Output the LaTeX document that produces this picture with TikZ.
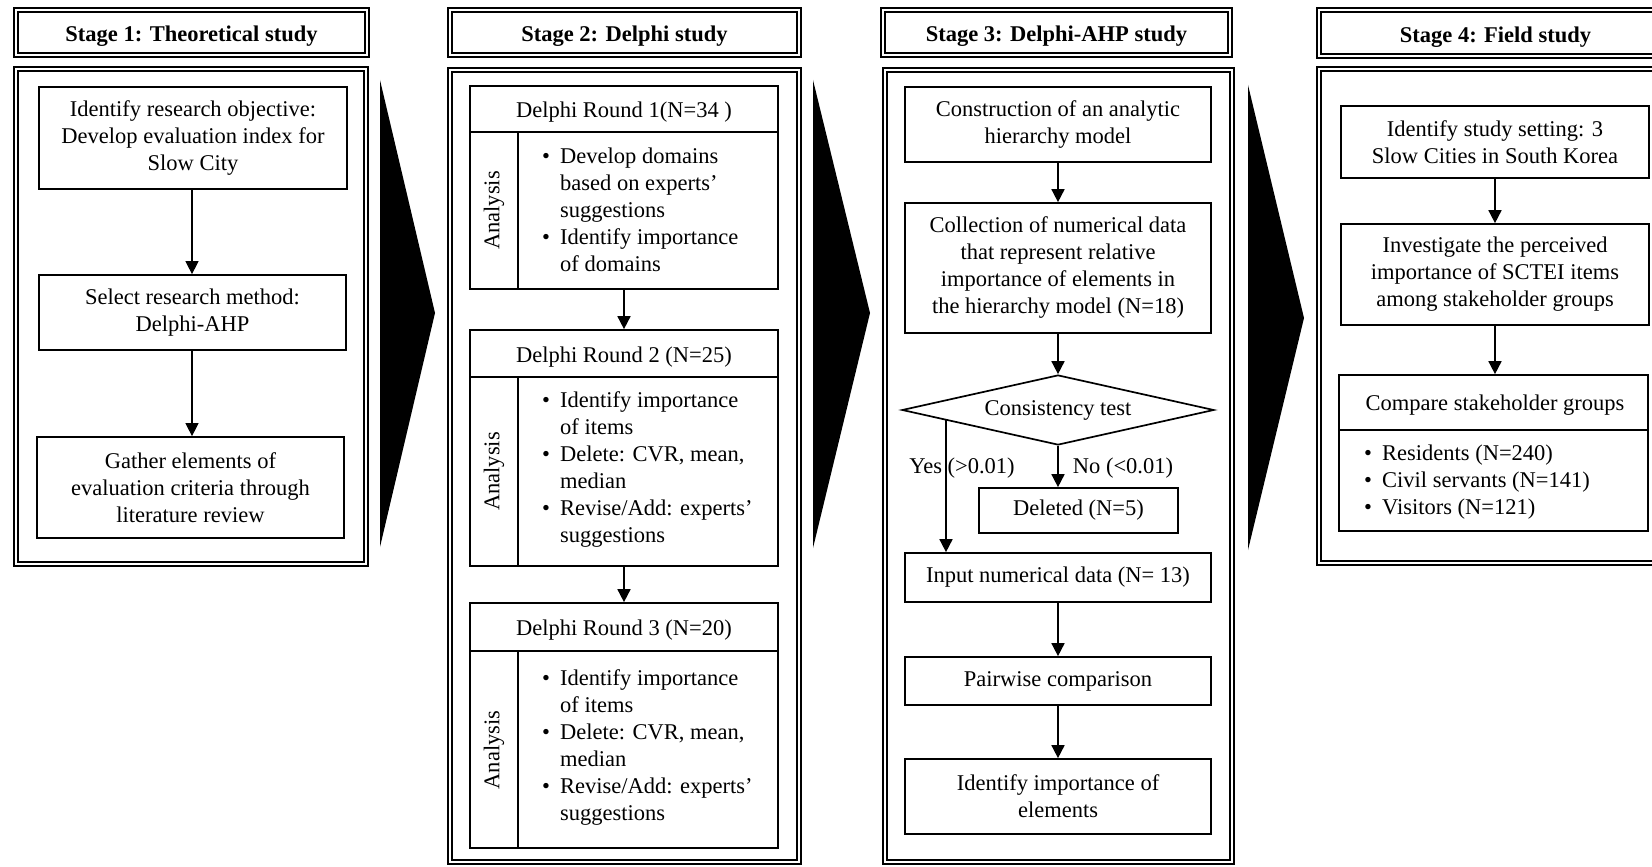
\documentclass[tikz,border=0pt]{standalone}
\usepackage{fontspec}
\setmainfont{Liberation Serif}
\usetikzlibrary{shapes.geometric,arrows.meta}
\newcommand{\myb}[1]{\makebox[18pt][l]{•}#1}
\newcommand{\myc}[1]{\hspace*{18pt}#1}
\begin{document}
\begin{tikzpicture}[x=1pt,y=-1pt,
  fnt/.style={font=\fontsize{22.5pt}{27pt}\selectfont},
  frame/.style={draw, line width=2pt, double distance=1.6pt, inner sep=0pt},
  hdr/.style={frame, font=\fontsize{22.5pt}{27pt}\selectfont\bfseries, text height=19pt, text depth=0pt},
  box/.style={draw, line width=1.7pt, align=center, inner sep=0pt, fnt},
  plain/.style={inner sep=0pt, align=center, fnt},
  txt/.style={inner sep=0pt, align=left, fnt},
  div/.style={line width=1.7pt},
  arr/.style={-{Triangle[width=13pt,length=13pt]}, line width=1.7pt},
  thinarr/.style={-{Triangle[width=13pt,length=13pt]}, line width=1.1pt},
  chev/.style={fill=black}
]
\useasboundingbox (0,0) rectangle (1652,867);
\fill[white] (0,0) rectangle (1652,867);
\clip (0,0) rectangle (1652,867);

% ---------------- Stage 1 ----------------
\node[hdr, minimum width=351pt, minimum height=45pt] (h1) at (191.5,32.5) {Stage 1: Theoretical study};
\node[frame, minimum width=350pt, minimum height=495pt] (f1) at (191,316.5) {};
\node[box, minimum width=308pt, minimum height=102pt] (a1) at (193,138) {Identify research objective:\\Develop evaluation index for\\Slow City};
\node[box, minimum width=307pt, minimum height=75pt] (a2) at (192.5,312.5) {Select research method:\\Delphi-AHP};
\node[box, minimum width=307pt, minimum height=101pt] (a3) at (190.5,487.5) {Gather elements of\\evaluation criteria through\\literature review};
\draw[thinarr] (a1.south -| 192,0) -- (a2.north -| 192,0);
\draw[thinarr] (a2.south -| 192,0) -- (a3.north -| 192,0);

% chevron 1
\fill[chev] (380,80) -- (435,313) -- (380,547) -- cycle;

% ---------------- Stage 2 ----------------
\node[hdr, minimum width=349pt, minimum height=45pt] (h2) at (624.5,32.5) {Stage 2: Delphi study};
\node[frame, minimum width=349pt, minimum height=792pt] (f2) at (624.5,466) {};

% Round 1
\node[box, minimum width=308pt, minimum height=203pt] (r1) at (624,187.5) {};
\node[plain] (r1t) at (624,112) {Delphi Round 1(N=34 )};
\draw[div] (r1.west |- 0,132) -- (r1.east |- 0,132);
\draw[div] (518,132) -- (518 ,289);
\node[plain, rotate=90] (r1a) at (494,210.5) {Analysis};
\node[txt, anchor=west] (r1b) at (542,210) {\myb{Develop domains}\\\myc{based on experts’}\\\myc{suggestions}\\\myb{Identify importance}\\\myc{of domains}};

% Round 2
\node[box, minimum width=308pt, minimum height=236pt] (r2) at (624,448) {};
\node[plain] (r2t) at (624,357) {Delphi Round 2 (N=25)};
\draw[div] (r2.west |- 0,377) -- (r2.east |- 0,377);
\draw[div] (518,377) -- (518,566);
\node[plain, rotate=90] (r2a) at (494,471.5) {Analysis};
\node[txt, anchor=west] (r2b) at (542,470) {\myb{Identify importance}\\\myc{of items}\\\myb{Delete: CVR, mean,}\\\myc{median}\\\myb{Revise/Add: experts’}\\\myc{suggestions}};

% Round 3
\node[box, minimum width=308pt, minimum height=245pt] (r3) at (624,725.5) {};
\node[plain] (r3t) at (624,630) {Delphi Round 3 (N=20)};
\draw[div] (r3.west |- 0,651) -- (r3.east |- 0,651);
\draw[div] (518,651) -- (518,848);
\node[plain, rotate=90] (r3a) at (494,750) {Analysis};
\node[txt, anchor=west] (r3b) at (542,747) {\myb{Identify importance}\\\myc{of items}\\\myb{Delete: CVR, mean,}\\\myc{median}\\\myb{Revise/Add: experts’}\\\myc{suggestions}};

\draw[arr] (r1.south) -- (r2.north);
\draw[arr] (r2.south) -- (r3.north);

% chevron 2
\fill[chev] (813,80) -- (870,313) -- (813,548) -- cycle;

% ---------------- Stage 3 ----------------
\node[hdr, minimum width=347pt, minimum height=45pt] (h3) at (1056.5,32.5) {Stage 3: Delphi-AHP study};
\node[frame, minimum width=347pt, minimum height=792pt] (f3) at (1058.5,466) {};
\node[box, minimum width=306pt, minimum height=75pt] (c1) at (1058,124.5) {Construction of an analytic\\hierarchy model};
\node[box, minimum width=306pt, minimum height=130pt] (c2) at (1058,268) {Collection of numerical data\\that represent relative\\importance of elements in\\the hierarchy model (N=18)};
\node[draw, diamond, aspect=4.46, line width=1.7pt, minimum width=312pt, minimum height=70pt, inner sep=0pt, fnt] (dia) at (1058,410) {Consistency test};
\node[box, minimum width=199pt, minimum height=45pt] (del) at (1078.5,510.5) {Deleted (N=5)};
\node[box, minimum width=306pt, minimum height=49pt] (inp) at (1058,577.5) {Input numerical data (N= 13)};
\node[box, minimum width=306pt, minimum height=48pt] (pw) at (1058,681) {Pairwise comparison};
\node[box, minimum width=306pt, minimum height=75pt] (idn) at (1058,796.5) {Identify importance of\\elements};
\node[plain] (yes) at (962,468) {Yes (>0.01)};
\node[plain] (no) at (1123,468) {No (<0.01)};
\coordinate (ys) at (946,420);

\draw[arr] (c1.south) -- (c2.north);
\draw[arr] (c2.south) -- (dia.north);
\draw[arr] (dia.south) -- (dia.south |- del.north);
\draw[arr] (ys) -- (ys |- inp.north);
\draw[arr] (inp.south) -- (pw.north);
\draw[arr] (pw.south) -- (idn.north);

% chevron 3
\fill[chev] (1248,85) -- (1304,318) -- (1248,550) -- cycle;

% ---------------- Stage 4 ----------------
\node[hdr, minimum width=353pt, minimum height=46pt] (h4) at (1495.5,33) {Stage 4: Field study};
\node[frame, minimum width=353pt, minimum height=494pt] (f4) at (1495.5,316) {};
\node[box, minimum width=308pt, minimum height=72pt] (d1) at (1495,142) {Identify study setting: 3\\Slow Cities in South Korea};
\node[box, minimum width=308pt, minimum height=101pt] (d2) at (1495,274.5) {Investigate the perceived\\importance of SCTEI items\\among stakeholder groups};
\node[box, minimum width=309pt, minimum height=156pt] (d3) at (1493.5,453) {};
\node[plain] (d3t) at (1495,405) {Compare stakeholder groups};
\draw[div] (d3.west |- 0,430) -- (d3.east |- 0,430);
\node[txt, anchor=west] (d3b) at (1364,482) {\myb{Residents (N=240)}\\\myb{Civil servants (N=141)}\\\myb{Visitors (N=121)}};
\draw[arr] (d1.south) -- (d2.north);
\draw[arr] (d2.south) -- (d2.south |- d3.north);
\end{tikzpicture}
\end{document}
